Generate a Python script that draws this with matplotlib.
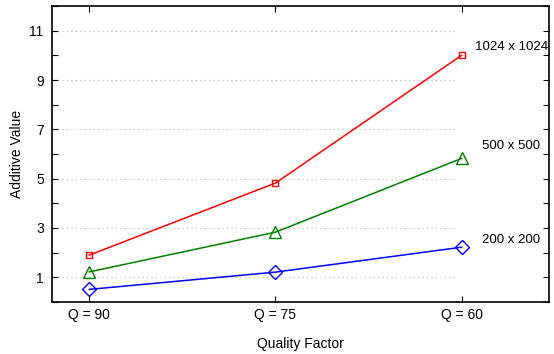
import numpy as np
import matplotlib
matplotlib.use('Agg')
import matplotlib.pyplot as plt

plt.rcParams['font.family'] = ['Liberation Sans', 'DejaVu Sans']

quality = ['Q = 90', 'Q = 75', 'Q = 60']
val_1024 = [1.9, 4.82, 10.0]
val_500 = [1.22, 2.83, 5.82]
val_200 = [0.51, 1.21, 2.22]
size_labels = ['1024 x 1024', '500 x 500', '200 x 200']
yticks_major = [1, 3, 5, 7, 9, 11]

x = np.arange(1, len(quality) + 1)

fig = plt.figure(figsize=(5.54, 3.54), dpi=100)
ax = fig.add_axes([0.094, 0.147, 0.897, 0.836])

# dotted grid lines, only over the plotted span
ax.hlines(yticks_major, 0.855, 2.97, colors='#b0b0b0', linestyles=(0, (1, 3)), linewidth=0.8, zorder=1)

ax.plot(x, val_1024, color='red', marker='s', markersize=5, markerfacecolor='none', linewidth=1.1, zorder=3)
ax.plot(x, val_500, color='green', marker='^', markersize=8, markerfacecolor='none', linewidth=1.1, zorder=3)
ax.plot(x, val_200, color='blue', marker='D', markersize=7, markerfacecolor='none', linewidth=1.1, zorder=3)

ax.text(3.07, 10.35, size_labels[0], fontsize=9.5, va='center')
ax.text(3.11, 6.33, size_labels[1], fontsize=9.5, va='center')
ax.text(3.11, 2.5, size_labels[2], fontsize=9.5, va='center')

ax.set_xlim(0.8, 3.47)
ax.set_ylim(0, 12)
ax.set_xticks(x)
ax.set_xticklabels(quality, fontsize=10)
ax.set_yticks(yticks_major)
ax.set_yticklabels([str(v) for v in yticks_major], fontsize=10)
ax.set_yticks(np.arange(0, 13, 2), minor=True)
ax.tick_params(which='both', direction='in', top=True, right=True, length=4, width=0.8)
ax.tick_params(axis='x', pad=4.5)
ax.tick_params(axis='y', pad=6)
ax.set_xlabel('Quality Factor', fontsize=10, labelpad=11)
ax.set_ylabel('Additive Value', fontsize=10, labelpad=4)
for s in ax.spines.values():
    s.set_linewidth(1.2)

plt.savefig('out.png', dpi=100)
